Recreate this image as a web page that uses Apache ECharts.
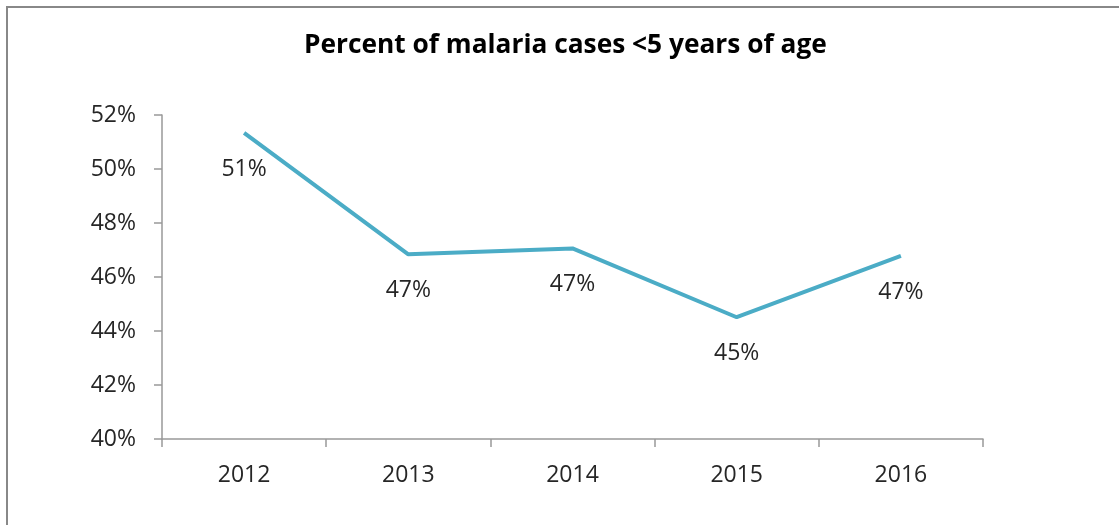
<!DOCTYPE html>
<html>
<head>
<meta charset="utf-8">
<script src="https://cdn.jsdelivr.net/npm/echarts@6/dist/echarts.min.js"></script>
<style>
html,body{margin:0;padding:0;background:#fff;}
#chart{width:1119px;height:525px;}
</style>
</head>
<body>
<div id="chart"></div>
<script>
const titleText = 'Percent of malaria cases <5 years of age';
const years = ['2012', '2013', '2014', '2015', '2016'];
const percentUnder5 = [51.34, 46.84, 47.06, 44.51, 46.78];
const yMin = 40, yMax = 52, yStep = 2;

const chart = echarts.init(document.getElementById('chart'));
const font = 'Open Sans';
chart.setOption({
  animation: false,
  backgroundColor: '#fff',
  graphic: [{
    type: 'rect', silent: true,
    shape: {x: 7, y: 7, width: 1300, height: 700},
    style: {fill: 'none', stroke: '#888', lineWidth: 2}
  }],
  title: {
    text: titleText,
    left: 299,
    top: 28,
    textStyle: {fontFamily: font, fontWeight: 'bold', fontSize: 26.3, color: '#000'}
  },
  grid: {left: 162, right: 136, top: 115, bottom: 86, containLabel: false},
  xAxis: {
    type: 'category',
    data: years,
    boundaryGap: true,
    axisLine: {lineStyle: {color: '#999', width: 1.5}},
    axisTick: {show: true, length: 8, inside: false, lineStyle: {color: '#999', width: 1.5}},
    axisLabel: {fontFamily: font, fontSize: 23, color: '#262626', margin: 25},
    splitLine: {show: false}
  },
  yAxis: {
    type: 'value',
    min: yMin, max: yMax, interval: yStep,
    axisLine: {show: true, lineStyle: {color: '#999', width: 1.5}},
    axisTick: {show: true, length: 8, lineStyle: {color: '#999', width: 1.5}},
    axisLabel: {fontFamily: font, fontSize: 23, color: '#262626', margin: 26,
      formatter: v => v + '%'},
    splitLine: {show: false}
  },
  series: [{
    type: 'line',
    data: percentUnder5,
    symbol: 'circle',
    symbolSize: 2,
    showSymbol: true,
    itemStyle: {color: 'rgba(0,0,0,0)', borderColor: 'rgba(0,0,0,0)', borderWidth: 0},
    lineStyle: {color: '#4BACC6', width: 4},
    label: {
      show: true, position: 'bottom', distance: 24,
      fontFamily: font, fontSize: 23, color: '#262626',
      formatter: p => Math.round(p.value) + '%'
    }
  }]
});
</script>
</body>
</html>
